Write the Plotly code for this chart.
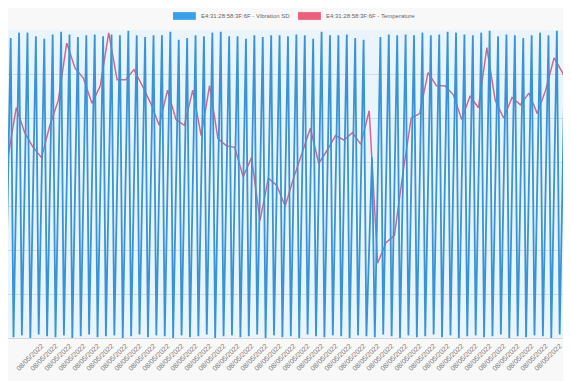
import plotly.graph_objects as go

# ---- data -------------------------------------------------------------
device = "E4:31:28:58:3F:6F"
series_names = [f"{device} - Vibration SD", f"{device} - Temperature"]

# Vibration SD: one high reading then one low reading per cycle
vib_high = [0.341, 0.347, 0.347, 0.343, 0.340, 0.345, 0.348, 0.345, 0.342, 0.344,
            0.345, 0.343, 0.345, 0.344, 0.349, 0.344, 0.342, 0.344,
            0.344, 0.348, 0.339, 0.341, 0.344, 0.343, 0.347, 0.348, 0.343, 0.343,
            0.340, 0.344, 0.342, 0.344, 0.344,
            0.343, 0.345, 0.344, 0.340, 0.348, 0.344, 0.344, 0.345, 0.341, 0.339,
            0.205, 0.342, 0.345, 0.344, 0.345,
            0.344, 0.347, 0.344, 0.345, 0.348, 0.347, 0.345, 0.344, 0.347, 0.349,
            0.343, 0.345, 0.344, 0.341, 0.344, 0.347, 0.344, 0.349, 0.347, 0.343]
vib_low = [0.002, 0.001, 0.003, 0.000, 0.004, 0.002, 0.001, 0.003, 0.000, 0.002,
           0.004, 0.001, 0.002, 0.003, 0.000, 0.002, 0.004, 0.001, 0.003, 0.002,
           0.000, 0.003, 0.001, 0.002, 0.004, 0.000, 0.002, 0.003, 0.001, 0.002,
           0.004, 0.000, 0.003, 0.001, 0.002, 0.000, 0.004, 0.002, 0.001, 0.003,
           0.002, 0.000, 0.003, 0.002, 0.001, 0.004, 0.002, 0.000, 0.003, 0.001,
           0.002, 0.004, 0.001, 0.003, 0.000, 0.002, 0.003, 0.001, 0.002, 0.004,
           0.000, 0.002, 0.001, 0.003, 0.002, 0.000, 0.004, 0.001, 0.002]

# Temperature (°C), one reading per cycle
temperature = [22.3, 25.7, 24.0, 23.0, 22.3, 24.5, 26.2, 30.1, 28.4, 27.7,
               26.0, 27.2, 30.8, 27.6, 27.6, 28.3, 27.2, 26.0, 24.5, 26.9,
               24.9, 24.5, 26.9, 23.8, 27.2, 23.6, 23.1, 23.0, 21.0, 22.3,
               18.0, 20.9, 20.4, 19.0, 20.9, 22.6, 24.3, 21.9, 22.8, 23.8,
               23.5, 24.0, 23.2, 25.5, 15.1, 16.5, 17.0, 21.2, 25.0, 25.3,
               28.1, 27.2, 27.2, 26.6, 24.9, 26.5, 25.7, 29.8, 26.2, 25.0,
               26.4, 25.9, 26.7, 25.3, 26.9, 29.1, 28.1, 26.7, 23.0]

tick_label = "08/05/2022"

# axis extents: vibration scale and the temperature scale sharing its height
VIB_RANGE = (0.0, 0.35)
TEMP_RANGE = (10.0, 31.0)

# ---- build interleaved reading slots --------------------------------
# slot 3k: high vib, 3k+1: low vib, 3k+2: temperature (k from -1)
vib_x, vib_y = [], []
for k in range(-1, 68):
    if k >= 0:
        vib_x.append(3 * k)
        vib_y.append(vib_high[k])
    vib_x.append(3 * k + 1)
    vib_y.append(vib_low[k + 1])
temp_x = [3 * k + 2 for k in range(-1, 68)]


def temp_on_shared_axis(t):
    # right-hand temperature scale expressed on the shared plotting axis,
    # so that both series live in one layer and the draw order is exact
    return VIB_RANGE[0] + (t - TEMP_RANGE[0]) / (TEMP_RANGE[1] - TEMP_RANGE[0]) * (VIB_RANGE[1] - VIB_RANGE[0])


temp_y = [temp_on_shared_axis(t) for t in temperature]

tick_vals = list(range(1, 200, 5))
tick_text = [tick_label] * len(tick_vals)

BLUE = "rgb(56,148,214)"
PINK = "rgb(210,104,142)"

fig = go.Figure()
# temperature first (underneath), vibration second (on top)
fig.add_trace(go.Scatter(x=temp_x, y=temp_y, mode="lines", name=series_names[1],
                         customdata=temperature, hovertemplate="%{customdata} °C",
                         line=dict(color=PINK, width=1.5), showlegend=False))
fig.add_trace(go.Scatter(x=vib_x, y=vib_y, mode="lines", name=series_names[0],
                         line=dict(color=BLUE, width=1.8), showlegend=False))

# legend drawn as Chart.js-style boxes
legend_items = [(series_names[0], "rgb(54,162,235)", 0.289), (series_names[1], "rgb(240,92,124)", 0.508)]
for name, col, x0 in legend_items:
    fig.add_shape(type="rect", xref="paper", yref="paper", x0=x0, x1=x0 + 0.040,
                  y0=1.033, y1=1.058, fillcolor=col, line=dict(width=0))
    fig.add_annotation(text=name, xref="paper", yref="paper", x=x0 + 0.045, y=1.046,
                       xanchor="left", yanchor="middle", showarrow=False,
                       font=dict(size=6, color="#666", family="Arial, Liberation Sans"))

fig.update_layout(
    width=571, height=381,
    margin=dict(l=0, r=0, t=22, b=51),
    paper_bgcolor="#f8f8f8",
    plot_bgcolor="#e9f4fb",
    font=dict(family="Arial, Liberation Sans", color="#666"),
    xaxis=dict(range=[-0.96, 202.9], showgrid=False, zeroline=False,
               tickmode="array", tickvals=tick_vals, ticktext=tick_text,
               tickangle=-45, tickfont=dict(size=7, color="#777"),
               showline=True, linecolor="#d8d8d8", ticks=""),
    yaxis=dict(range=list(VIB_RANGE), dtick=0.05, showticklabels=False,
               gridcolor="#d3dbe2", gridwidth=1, zeroline=False,
               showline=False),
)

fig.write_html("out.html")
